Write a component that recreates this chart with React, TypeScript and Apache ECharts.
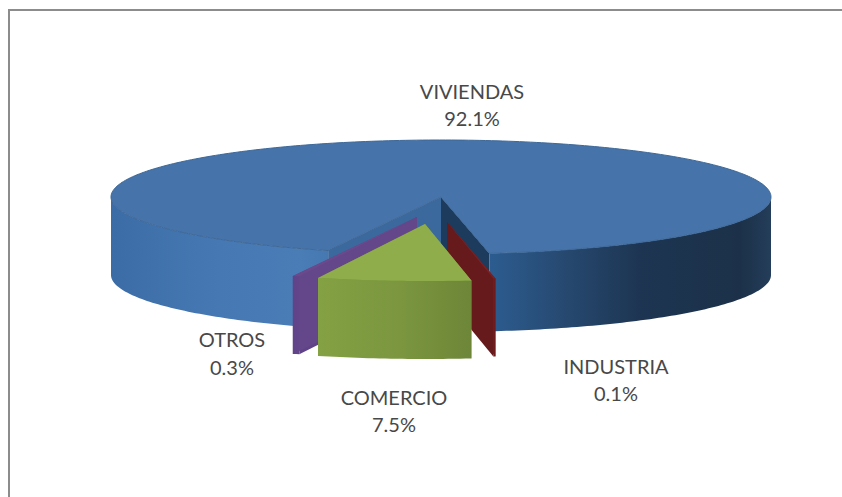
import React, { useEffect, useRef } from "react";
import * as echarts from "echarts";

const categories = ["VIVIENDAS", "INDUSTRIA", "COMERCIO", "OTROS"];
const shareValues = [92.1, 0.1, 7.5, 0.3];
const shareLabels = ["92.1%", "0.1%", "7.5%", "0.3%"];

// Drawing configuration (separate from the data)
const CX = 441, CY = 197, RX = 330, RY = 57, DEPTH = 78, START_DEG = 20;
const offsets = [[0, 0], [6, 25], [-16, 27], [-24, 20]];
const rimScale = [1, 1, 1, 1.1];
const labelPos = [[472, 91, 118], [616, 366, 393], [394, 397, 424], [232, 339, 367]];
const zOrder = [1, 2, 4, 3];
const looks = [
  { top: "#4673a9", edge: "#3e6897", cutA: "#3b699d", cutB: "#1d3b5c" },
  { top: "#7d1f1f", edge: "none", cutA: "#7a1f22", cutB: "#661a1c" },
  { top: "#8fad4a", edge: "none", cutA: "#7d9a3e", cutB: "#6f8a38" },
  { top: "#6a4a8c", edge: "none", cutA: "#5f4288", cutB: "#64468a" },
];
// Global (pixel) gradients along x for the outer walls
const wallStops = [
  [[111, "#3c6ca5"], [220, "#4679b4"], [300, "#4a7db6"], [489, "#2c5c90"], [560, "#274a72"], [640, "#1d3552"], [740, "#1c3149"], [771, "#243d5a"]],
  [[440, "#661a1c"], [500, "#701c1d"]],
  [[318, "#84a143"], [400, "#7b963f"], [471, "#6d8638"]],
  [[290, "#5f4288"], [330, "#6a4c90"]],
];

const rad = (d: number) => (d * Math.PI) / 180;

function point(deg: number, ox: number, oy: number, s: number, dz = 0): number[] {
  return [CX + ox - s * RX * Math.sin(rad(deg)), CY + oy + s * RY * Math.cos(rad(deg)) + dz];
}

function arcPoints(a: number, b: number, ox: number, oy: number, s: number, dz = 0): number[][] {
  const n = Math.max(2, Math.ceil(Math.abs(b - a)));
  const pts: number[][] = [];
  for (let i = 0; i <= n; i++) pts.push(point(a + ((b - a) * i) / n, ox, oy, s, dz));
  return pts;
}

function gradient(stops: any[]) {
  const x0 = stops[0][0];
  const x1 = stops[stops.length - 1][0];
  return {
    type: "linear", global: true, x: x0, y: 0, x2: x1, y2: 0,
    colorStops: stops.map(([x, color]) => ({ offset: (x - x0) / (x1 - x0), color })),
  };
}

function wall(a: number, b: number, ox: number, oy: number, s: number, stops: any[], z2: number) {
  const upper = arcPoints(a, b, ox, oy, s);
  const lower = arcPoints(a, b, ox, oy, s, DEPTH).reverse();
  return {
    type: "polygon", z2,
    shape: { points: upper.concat(lower) },
    style: { fill: gradient(stops) },
  };
}

function cut(deg: number, ox: number, oy: number, s: number, fill: string, z2: number) {
  const apex = [CX + ox, CY + oy];
  const rim = point(deg, ox, oy, s);
  return {
    type: "polygon", z2,
    shape: { points: [apex, rim, [rim[0], rim[1] + DEPTH], [apex[0], apex[1] + DEPTH]] },
    style: { fill },
  };
}

export default function App() {
  const ref = useRef<HTMLDivElement>(null);
  useEffect(() => {
    if (!ref.current) return;
    const chart = echarts.init(ref.current, undefined, { renderer: "svg" });
    const total = shareValues.reduce((s, v) => s + v, 0);
    const starts: number[] = [];
    let acc = START_DEG;
    shareValues.forEach((v) => {
      starts.push(acc);
      acc += (v / total) * 360;
    });
    const renderItem = (_params: any, api: any) => {
      const i = api.value(0) as number;
      const a = starts[i];
      const b = a + (api.value(1) / total) * 360;
      const [ox, oy] = offsets[i];
      const s = rimScale[i];
      const base = zOrder[i] * 10;
      const look = looks[i];
      const children: any[] = [];
      children.push(cut(a, ox, oy, s, look.cutA, base));
      children.push(cut(b, ox, oy, s, look.cutB, base));
      // Visible outer wall: the front half of the ellipse only
      [[0, 90], [270, 450]].forEach(([lo, hi]) => {
        const from = Math.max(a, lo), to = Math.min(b, hi);
        if (to > from) children.push(wall(from, to, ox, oy, s, wallStops[i], base + 1));
      });
      children.push({
        type: "polygon", z2: base + 2,
        shape: { points: [[CX + ox, CY + oy] as number[]].concat(arcPoints(a, b, ox, oy, s)) },
        style: { fill: look.top, stroke: look.edge, lineWidth: 1 },
      });
      const [lx, ly1, ly2] = labelPos[i];
      const textStyle = { fontFamily: "Lato", fontSize: 20, fill: "#484848", textAlign: "center", textVerticalAlign: "middle" };
      children.push({ type: "text", z2: 100, style: { ...textStyle, text: categories[i], x: lx, y: ly1 } });
      children.push({ type: "text", z2: 100, style: { ...textStyle, text: shareLabels[i], x: lx, y: ly2 } });
      return { type: "group", children };
    };
    chart.setOption({
      animation: false,
      backgroundColor: "#ffffff",
      graphic: [
        { type: "line", shape: { x1: 8, y1: 10, x2: 842, y2: 10 }, style: { stroke: "#8c8c8c", lineWidth: 2 } },
        { type: "line", shape: { x1: 9, y1: 9, x2: 9, y2: 497 }, style: { stroke: "#8c8c8c", lineWidth: 2 } },
      ],
      series: [
        {
          type: "custom",
          coordinateSystem: "none",
          renderItem,
          data: shareValues.map((v, i) => [i, v]),
          silent: true,
        },
      ],
    });
    return () => chart.dispose();
  }, []);
  return <div ref={ref} style={{ position: "absolute", left: 0, top: 0, width: 842, height: 497 }} />;
}
